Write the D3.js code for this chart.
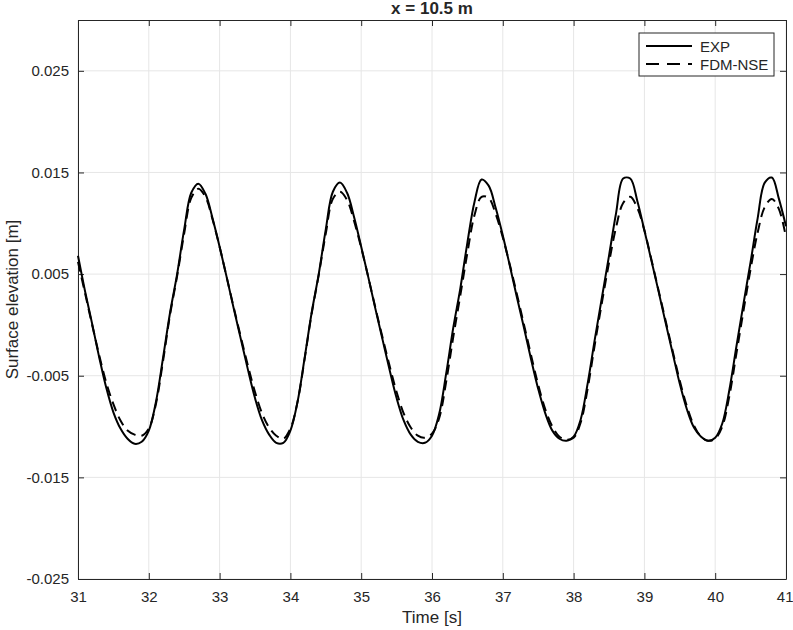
<!DOCTYPE html>
<html>
<head>
<meta charset="utf-8">
<script src="https://cdn.jsdelivr.net/npm/d3@7"></script>
<style>
  body { margin: 0; background: #fff; }
  text { font-family: "Liberation Sans", Arial, sans-serif; fill: #262626; }
</style>
</head>
<body>
<svg id="chart"></svg>
<script>
// time samples [s], 31.0 .. 41.0 every 0.1 s
let time = d3.range(0, 101).map((i) => +(31 + i * 0.1).toFixed(1));

// measured surface elevation [m]
let expVals = [
  0.0068, 0.0033, 0.0001, -0.0032, -0.0062, -0.0086, -0.0102, -0.0112, -0.0117, -0.0115,
  -0.0104, -0.0076, -0.0033, 0.0012, 0.0050, 0.0094, 0.0130, 0.0139, 0.0129, 0.0105,
  0.0077, 0.0047, 0.0016, -0.0014, -0.0044, -0.0072, -0.0094, -0.0108, -0.0116, -0.0116,
  -0.0104, -0.0076, -0.0033, 0.0012, 0.0050, 0.0094, 0.0131, 0.0140, 0.0130, 0.0106,
  0.0077, 0.0047, 0.0016, -0.0014, -0.0044, -0.0072, -0.0094, -0.0108, -0.0115, -0.0116,
  -0.0109, -0.0088, -0.0048, -0.0003, 0.0036, 0.0081, 0.0121, 0.0143, 0.0137, 0.0115,
  0.0088, 0.0058, 0.0027, -0.0003, -0.0034, -0.0063, -0.0087, -0.0104, -0.0112, -0.0114,
  -0.0110, -0.0093, -0.0057, -0.0014, 0.0027, 0.0068, 0.0110, 0.0144, 0.0144, 0.0122,
  0.0093, 0.0063, 0.0033, 0.0002, -0.0028, -0.0058, -0.0083, -0.0101, -0.0110, -0.0114,
  -0.0111, -0.0097, -0.0064, -0.0021, 0.0021, 0.0062, 0.0105, 0.0140, 0.0145, 0.0124,
  0.0097
];

// FDM-NSE simulation [m]
let fdmVals = [
  0.0062, 0.0031, 0.0000, -0.0030, -0.0057, -0.0078, -0.0094, -0.0104, -0.0108, -0.0109,
  -0.0102, -0.0078, -0.0036, 0.0010, 0.0048, 0.0090, 0.0125, 0.0134, 0.0126, 0.0104,
  0.0077, 0.0047, 0.0017, -0.0012, -0.0040, -0.0066, -0.0087, -0.0101, -0.0109, -0.0112,
  -0.0102, -0.0076, -0.0034, 0.0011, 0.0049, 0.0090, 0.0124, 0.0131, 0.0123, 0.0102,
  0.0076, 0.0047, 0.0017, -0.0012, -0.0040, -0.0066, -0.0087, -0.0101, -0.0109, -0.0111,
  -0.0107, -0.0092, -0.0056, -0.0012, 0.0029, 0.0071, 0.0108, 0.0126, 0.0125, 0.0109,
  0.0086, 0.0059, 0.0030, 0.0000, -0.0030, -0.0059, -0.0083, -0.0100, -0.0110, -0.0113,
  -0.0111, -0.0096, -0.0062, -0.0019, 0.0022, 0.0061, 0.0096, 0.0120, 0.0126, 0.0115,
  0.0093, 0.0064, 0.0034, 0.0004, -0.0026, -0.0055, -0.0080, -0.0099, -0.0110, -0.0114,
  -0.0112, -0.0100, -0.0070, -0.0028, 0.0014, 0.0055, 0.0091, 0.0116, 0.0124, 0.0114,
  0.0086
];

let xTicks = [31, 32, 33, 34, 35, 36, 37, 38, 39, 40, 41];
let yTicks = [-0.025, -0.015, -0.005, 0.005, 0.015, 0.025];
let seriesNames = ["EXP", "FDM-NSE"];

let width = 793;
let height = 630;
let margin = { top: 20, right: 7, bottom: 51, left: 78 };

let svg = d3.select("#chart").attr("width", width).attr("height", height);

let x = d3
  .scaleLinear()
  .domain([31, 41])
  .range([margin.left, width - margin.right]);
let y = d3
  .scaleLinear()
  .domain([-0.025, 0.03])
  .range([height - margin.bottom, margin.top]);

let axisColor = "#262626";
let gridColor = "#e6e6e6";

// grid
let grid = svg.append("g");
grid
  .selectAll(".vg")
  .data(xTicks)
  .enter()
  .append("line")
  .attr("x1", (d) => x(d))
  .attr("x2", (d) => x(d))
  .attr("y1", y.range()[0])
  .attr("y2", y.range()[1])
  .attr("stroke", gridColor);
grid
  .selectAll(".hg")
  .data(yTicks)
  .enter()
  .append("line")
  .attr("x1", x.range()[0])
  .attr("x2", x.range()[1])
  .attr("y1", (d) => y(d))
  .attr("y2", (d) => y(d))
  .attr("stroke", gridColor);

// axes (ticks pointing inward, box style)
let tick = 6;
let xBottom = svg
  .append("g")
  .attr("transform", `translate(0,${y.range()[0]})`)
  .call(d3.axisBottom(x).tickValues(xTicks).tickSizeInner(-tick).tickSizeOuter(0).tickPadding(12).tickFormat(d3.format("d")));
let xTop = svg
  .append("g")
  .attr("transform", `translate(0,${y.range()[1]})`)
  .call(d3.axisTop(x).tickValues(xTicks).tickSizeInner(-tick).tickSizeOuter(0).tickFormat(""));
let yLeft = svg
  .append("g")
  .attr("transform", `translate(${x.range()[0]},0)`)
  .call(d3.axisLeft(y).tickValues(yTicks).tickSizeInner(-tick).tickSizeOuter(0).tickPadding(9).tickFormat(d3.format(".3f")));
let yRight = svg
  .append("g")
  .attr("transform", `translate(${x.range()[1]},0)`)
  .call(d3.axisRight(y).tickValues(yTicks).tickSizeInner(-tick).tickSizeOuter(0).tickFormat(""));

[xBottom, xTop, yLeft, yRight].forEach((g) => {
  g.selectAll("path").attr("stroke", axisColor);
  g.selectAll("line").attr("stroke", axisColor);
  g.selectAll("text").attr("fill", axisColor).style("font-size", "15px").style("font-family", "Liberation Sans, Arial, sans-serif");
});
yLeft.selectAll("text").text((d) => d3.format(".3f")(d).replace("−", "-"));
// keep the last x label inside the window, as in the reference
xBottom.selectAll("text").filter((d) => d === 41).attr("text-anchor", "end").attr("dx", "7");

// lines
let line = d3
  .line()
  .x((d) => x(d[0]))
  .y((d) => y(d[1]))
  .curve(d3.curveCatmullRom);

let expData = time.map((t, i) => [t, expVals[i]]);
let fdmData = time.map((t, i) => [t, fdmVals[i]]);

let plot = svg.append("g");
plot
  .append("path")
  .datum(fdmData)
  .attr("d", line)
  .attr("fill", "none")
  .attr("stroke", "#000")
  .attr("stroke-width", 2)
  .attr("stroke-dasharray", "10,6");
plot
  .append("path")
  .datum(expData)
  .attr("d", line)
  .attr("fill", "none")
  .attr("stroke", "#000")
  .attr("stroke-width", 2);

// title and labels
svg
  .append("text")
  .attr("x", (x.range()[0] + x.range()[1]) / 2)
  .attr("y", 14)
  .attr("text-anchor", "middle")
  .style("font-size", "17px")
  .style("font-weight", "bold")
  .text("x = 10.5 m");
svg
  .append("text")
  .attr("x", (x.range()[0] + x.range()[1]) / 2)
  .attr("y", 623)
  .attr("text-anchor", "middle")
  .style("font-size", "17px")
  .text("Time [s]");
svg
  .append("text")
  .attr("transform", `translate(18,${(y.range()[0] + y.range()[1]) / 2}) rotate(-90)`)
  .attr("text-anchor", "middle")
  .style("font-size", "17px")
  .text("Surface elevation [m]");

// legend
let legend = svg.append("g").attr("transform", "translate(639,33)");
legend
  .append("rect")
  .attr("width", 135)
  .attr("height", 43)
  .attr("fill", "#fff")
  .attr("stroke", axisColor);
seriesNames.forEach((name, i) => {
  let ly = 13 + i * 18;
  legend
    .append("line")
    .attr("x1", 7)
    .attr("x2", 53)
    .attr("y1", ly)
    .attr("y2", ly)
    .attr("stroke", "#000")
    .attr("stroke-width", 2)
    .attr("stroke-dasharray", i === 1 ? "13,8" : null);
  legend
    .append("text")
    .attr("x", 61)
    .attr("y", ly + 5.5)
    .style("font-size", "15px")
    .text(name);
});
</script>
</body>
</html>
